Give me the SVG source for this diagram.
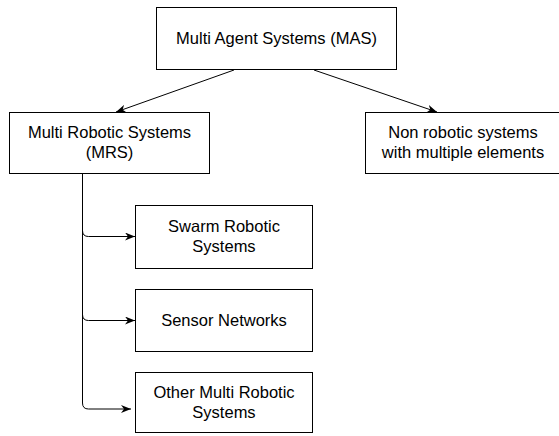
<svg xmlns="http://www.w3.org/2000/svg" width="559" height="436" viewBox="0 0 559 436">
<style>
.box{fill:#fff;stroke:#000;stroke-width:1}
.lbl{font-family:"Liberation Sans",Arial,sans-serif;font-size:16.5px;fill:#000;text-anchor:middle}
.edge{fill:none;stroke:#000;stroke-width:1}
</style>
<defs>
<marker id="arr" viewBox="0 0 10 8" refX="10" refY="4" markerWidth="10" markerHeight="8" markerUnits="userSpaceOnUse" orient="auto">
<path d="M0,0 L10,4 L0,8 L3,4 Z" fill="#000"/>
</marker>
</defs>
<rect width="559" height="436" fill="#fff"/>
<g id="connectors">
<path class="edge" d="M234,70 L116,112" marker-end="url(#arr)"/>
<path class="edge" d="M314,70 L437,112" marker-end="url(#arr)"/>
<path class="edge" d="M82.5,173 V230.5 Q82.5,236.5 88.5,236.5 H135" marker-end="url(#arr)"/>
<path class="edge" d="M82.5,173 V314.5 Q82.5,320.5 88.5,320.5 H135" marker-end="url(#arr)"/>
<path class="edge" d="M82.5,173 V403 Q82.5,409 88.5,409 H131" marker-end="url(#arr)"/>
</g>
<g id="mas">
<rect class="box" x="156.5" y="7.5" width="240" height="62"/>
<text class="lbl" x="276.5" y="44">Multi Agent Systems (MAS)</text>
</g>
<g id="mrs">
<rect class="box" x="9.5" y="112.5" width="200" height="61"/>
<text class="lbl" x="109.5" y="138">Multi Robotic Systems</text>
<text class="lbl" x="109.5" y="158">(MRS)</text>
</g>
<g id="nonrobotic">
<rect class="box" x="365.5" y="112.5" width="200" height="61"/>
<text class="lbl" x="463" y="138">Non robotic systems</text>
<text class="lbl" x="463" y="158">with multiple elements</text>
</g>
<g id="swarm">
<rect class="box" x="135.5" y="205.5" width="177" height="63"/>
<text class="lbl" x="224" y="232">Swarm Robotic</text>
<text class="lbl" x="224" y="252">Systems</text>
</g>
<g id="sensor">
<rect class="box" x="135.5" y="289.5" width="177" height="62"/>
<text class="lbl" x="224" y="326">Sensor Networks</text>
</g>
<g id="other">
<rect class="box" x="135.5" y="372.5" width="177" height="60"/>
<text class="lbl" x="224" y="398">Other Multi Robotic</text>
<text class="lbl" x="224" y="418">Systems</text>
</g>
</svg>
